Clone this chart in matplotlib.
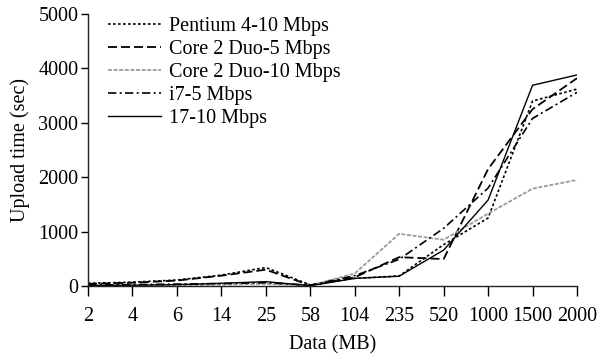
import matplotlib
matplotlib.use("Agg")
import matplotlib.pyplot as plt

plt.rcParams["font.family"] = ["Liberation Serif", "DejaVu Serif"]

data_mb = ["2", "4", "6", "14", "25", "58", "104", "235", "520", "1000", "1500", "2000"]

pentium_10 = [50, 70, 110, 200, 340, 20, 140, 185, 760, 1250, 3400, 3620]
core2_5 = [40, 60, 100, 190, 300, 10, 160, 530, 495, 2150, 3250, 3820]
core2_10 = [5, 10, 15, 25, 40, 10, 230, 960, 850, 1330, 1790, 1950]
i7_5 = [20, 25, 35, 45, 60, 15, 190, 490, 1060, 1800, 3080, 3560]
i7_10 = [10, 15, 25, 50, 80, 5, 140, 180, 660, 1580, 3690, 3880]

series = [
    ("Pentium 4-10 Mbps", pentium_10, "black", (0, (1.6, 1.4)), 1.2),
    ("Core 2 Duo-5 Mbps", core2_5, "black", (0, (5, 2.2)), 1.3),
    ("Core 2 Duo-10 Mbps", core2_10, "#9a9a9a", (0, (2.2, 0.9)), 1.3),
    ("i7-5 Mbps", i7_5, "black", (0, (5, 2, 1.2, 2)), 1.2),
    ("17-10 Mbps", i7_10, "black", "-", 1.0),
]

fig = plt.figure(figsize=(6.04, 3.56), dpi=100)
ax = fig.add_axes([88 / 604, 70 / 356, (577 - 88) / 604, 272 / 356])

x = list(range(len(data_mb)))
for label, vals, color, ls, lw in series:
    ax.plot(x, vals, color=color, linestyle=ls, linewidth=lw, label=label)

ax.set_xlim(0, len(data_mb) - 1)
ax.set_ylim(0, 5000)
ax.set_xticks(x)
ax.set_xticklabels(data_mb)
ax.set_yticks([0, 1000, 2000, 3000, 4000, 5000])

for s in ["top", "right"]:
    ax.spines[s].set_visible(False)
for s in ["left", "bottom"]:
    ax.spines[s].set_linewidth(1.0)
    ax.spines[s].set_color("#222222")

ax.tick_params(axis="x", direction="out", length=7, width=1, pad=8, labelsize=14.5)
ax.tick_params(axis="y", direction="out", length=5, width=1, pad=2, labelsize=14.5)

ax.set_xlabel("Data (MB)", fontsize=14.5, labelpad=7)
ax.set_ylabel("Upload time (sec)", fontsize=14.5, labelpad=6)

ax.legend(loc="upper left", bbox_to_anchor=(0.025, 1.02), frameon=False,
          fontsize=14.5, handlelength=2.6, handletextpad=0.4,
          labelspacing=0.2, borderaxespad=0)

fig.savefig("out.png", dpi=100)
